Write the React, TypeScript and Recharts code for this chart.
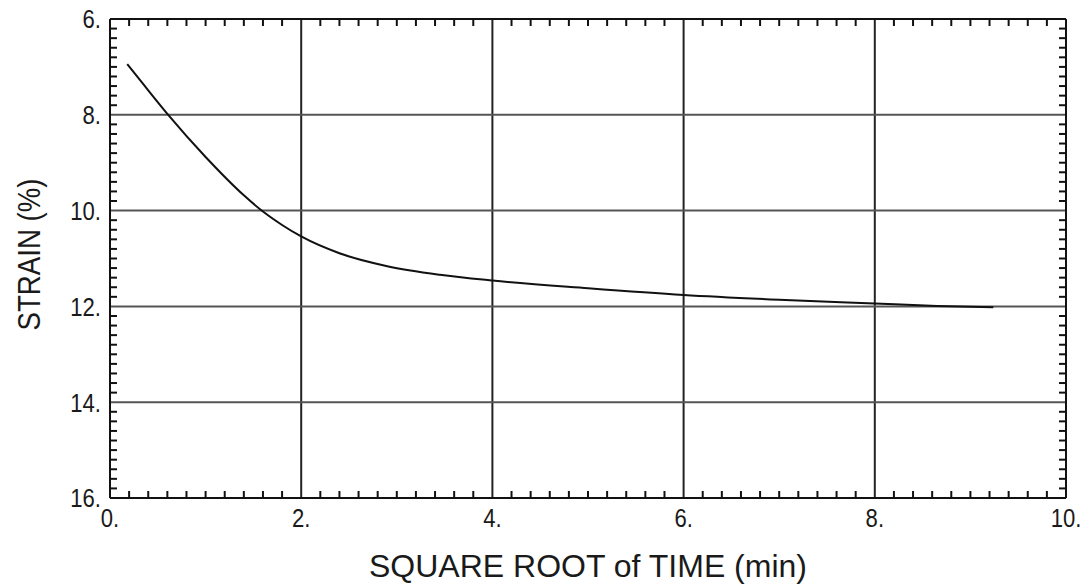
import { LineChart, Line, XAxis, YAxis, CartesianGrid } from 'recharts';

// curve (x = sqrt of time in min, y = strain %)
const sqrtTime = [0.18, 0.34, 0.6, 1.0, 1.4, 1.6, 1.8, 2.0, 2.4, 2.9, 3.45, 4.0, 5.0, 6.0, 7.0, 8.0, 8.65, 9.24];
const strain = [6.94, 7.34, 7.98, 8.88, 9.68, 10.02, 10.3, 10.54, 10.89, 11.16, 11.34, 11.46, 11.62, 11.76, 11.86, 11.94, 11.99, 12.02];

const xTicks = [0, 2, 4, 6, 8, 10];
const yTicks = [6, 8, 10, 12, 14, 16];
const xMinor = [
  0.2, 0.4, 0.6, 0.8, 1.0, 1.2, 1.4, 1.6, 1.8,
  2.2, 2.4, 2.6, 2.8, 3.0, 3.2, 3.4, 3.6, 3.8,
  4.2, 4.4, 4.6, 4.8, 5.0, 5.2, 5.4, 5.6, 5.8,
  6.2, 6.4, 6.6, 6.8, 7.0, 7.2, 7.4, 7.6, 7.8,
  8.2, 8.4, 8.6, 8.8, 9.0, 9.2, 9.4, 9.6, 9.8,
];
const yMinor = [
  6.2, 6.4, 6.6, 6.8, 7.0, 7.2, 7.4, 7.6, 7.8,
  8.2, 8.4, 8.6, 8.8, 9.0, 9.2, 9.4, 9.6, 9.8,
  10.2, 10.4, 10.6, 10.8, 11.0, 11.2, 11.4, 11.6, 11.8,
  12.2, 12.4, 12.6, 12.8, 13.0, 13.2, 13.4, 13.6, 13.8,
  14.2, 14.4, 14.6, 14.8, 15.0, 15.2, 15.4, 15.6, 15.8,
];

const data = sqrtTime.map((x, i) => ({ x, y: strain[i] }));

const FONT = '"Liberation Sans", Arial, sans-serif';
const INK = '#1a1a1a';
const minorLine = { stroke: '#111', strokeWidth: 2 };
const frame = { stroke: '#111', strokeWidth: 2 };

// narrow-looking plotter digits: squeeze the text horizontally
const XTick = ({ x, y, payload }: any) => (
  <g transform={`translate(${x},${y}) scale(0.85,1)`}>
    <text x={0} y={0} dy="0.72em" textAnchor="middle" fontFamily={FONT} fontSize={26} fill={INK}>
      {`${payload.value}.`}
    </text>
  </g>
);
const YTick = ({ x, y, payload }: any) => (
  <g transform={`translate(${x},${y}) scale(0.85,1)`}>
    <text x={0} y={0} dy="0.36em" textAnchor="end" fontFamily={FONT} fontSize={26} fill={INK}>
      {`${payload.value}.`}
    </text>
  </g>
);
const NoTick = () => <g />;

const XTitle = ({ viewBox }: any) => {
  const cx = viewBox.x + viewBox.width / 2;
  return (
    <text x={cx} y={577} textAnchor="middle" fontFamily={FONT} fontSize={32} fill={INK}
      textLength={438} lengthAdjust="spacingAndGlyphs">
      SQUARE ROOT of TIME (min)
    </text>
  );
};
const YTitle = ({ viewBox }: any) => {
  const cy = viewBox.y + viewBox.height / 2 - 4;
  return (
    <text x={0} y={0} transform={`translate(40,${cy}) rotate(-90)`} textAnchor="middle" fontFamily={FONT}
      fontSize={31} fill={INK} textLength={152} lengthAdjust="spacingAndGlyphs">
      STRAIN (%)
    </text>
  );
};

export default function App() {
  return (
    <div style={{ position: 'absolute', left: 0, top: 0, background: '#fff' }}>
      <LineChart width={1088} height={586} data={data} margin={{ top: 19, right: 22, bottom: 0, left: 0 }}>
        <CartesianGrid horizontal={false} stroke="#222" strokeWidth={2} />
        <CartesianGrid vertical={false} stroke="#555" strokeWidth={2} />
        <XAxis
          dataKey="x"
          type="number"
          domain={[0, 10]}
          allowDataOverflow
          ticks={xTicks}
          interval={0}
          tickLine={false}
          tickSize={6}
          tickMargin={4}
          axisLine={frame}
          stroke="#111"
          tick={<XTick />}
          height={88}
          label={<XTitle />}
        />
        <YAxis
          dataKey="y"
          type="number"
          domain={[6, 16]}
          allowDataOverflow
          reversed
          ticks={yTicks}
          interval={0}
          tickLine={false}
          tickSize={6}
          tickMargin={3}
          axisLine={frame}
          stroke="#111"
          tick={<YTick />}
          width={110}
          label={<YTitle />}
        />
        {/* inward minor ticks on all four sides */}
        <XAxis xAxisId="bMinor" dataKey="x" orientation="bottom" mirror type="number" domain={[0, 10]} allowDataOverflow ticks={xMinor} interval={0} tick={<NoTick />} axisLine={false} stroke="#111" strokeWidth={2} tickSize={7} tickLine={minorLine} />
        <XAxis xAxisId="tMinor" dataKey="x" orientation="top" mirror type="number" domain={[0, 10]} allowDataOverflow ticks={xMinor} interval={0} tick={<NoTick />} axisLine={frame} stroke="#111" strokeWidth={2} tickSize={7} tickLine={minorLine} />
        <YAxis yAxisId="lMinor" dataKey="y" orientation="left" mirror type="number" domain={[6, 16]} allowDataOverflow reversed ticks={yMinor} interval={0} tick={<NoTick />} axisLine={false} stroke="#111" strokeWidth={2} tickSize={7} tickLine={minorLine} />
        <YAxis yAxisId="rMinor" dataKey="y" orientation="right" mirror type="number" domain={[6, 16]} allowDataOverflow reversed ticks={yMinor} interval={0} tick={<NoTick />} axisLine={frame} stroke="#111" strokeWidth={2} tickSize={7} tickLine={minorLine} />
        {/* invisible series that bind the tick-only axes */}
        <Line xAxisId="bMinor" yAxisId="lMinor" dataKey="y" stroke="none" dot={false} activeDot={false} isAnimationActive={false} />
        <Line xAxisId="tMinor" yAxisId="rMinor" dataKey="y" stroke="none" dot={false} activeDot={false} isAnimationActive={false} />
        <Line dataKey="y" type="monotone" stroke="#111" strokeWidth={2} dot={false} isAnimationActive={false} />
      </LineChart>
    </div>
  );
}
